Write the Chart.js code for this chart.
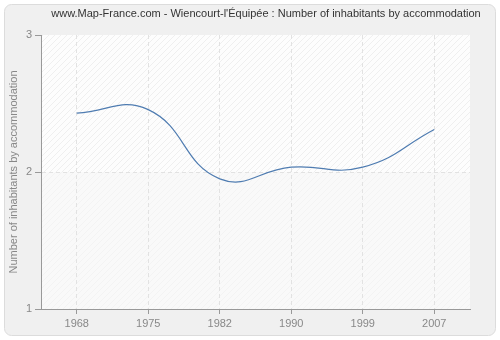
<!DOCTYPE html>
<html>
<head>
<meta charset="utf-8">
<script src="https://cdn.jsdelivr.net/npm/chart.js@4/dist/chart.umd.min.js"></script>
<style>
  html, body { margin: 0; padding: 0; background: #fff; }
  #wrap { width: 500px; height: 340px; }
</style>
</head>
<body>
<div id="wrap"><canvas id="chart" width="500" height="340"></canvas></div>
<script>
const years = ['1968', '1975', '1982', '1990', '1999', '2007'];
const inhabitants = [2.43, 2.455, 1.95, 2.035, 2.035, 2.31];
const yTicks = [1, 2, 3];
const chartTitle = "www.Map-France.com - Wiencourt-l'Équipée : Number of inhabitants by accommodation";
const yTitle = 'Number of inhabitants by accommodation';

const FONT = "'Liberation Sans', Arial, sans-serif";

function hatch(bg, line) {
  const c = document.createElement('canvas');
  c.width = 6; c.height = 6;
  const g = c.getContext('2d');
  g.fillStyle = bg;
  g.fillRect(0, 0, 6, 6);
  g.strokeStyle = line;
  g.lineWidth = 1;
  g.beginPath();
  g.moveTo(0, 6); g.lineTo(6, 0);
  g.moveTo(-1, 1); g.lineTo(1, -1);
  g.moveTo(5, 7); g.lineTo(7, 5);
  g.stroke();
  return c;
}

const backdrop = {
  id: 'backdrop',
  beforeDraw(chart) {
    const { ctx, chartArea: a, scales } = chart;
    ctx.save();
    // outer panel
    ctx.fillStyle = '#f0f0f0';
    ctx.strokeStyle = '#dcdcdc';
    ctx.lineWidth = 1;
    ctx.beginPath();
    ctx.roundRect(4.5, 4.5, 491, 331, 7);
    ctx.fill();
    ctx.stroke();
    // plot area
    const mid = scales.y.getPixelForValue(2);
    ctx.fillStyle = ctx.createPattern(hatch('#fdfdfd', '#efefef'), 'repeat');
    ctx.fillRect(a.left, a.top, a.right - a.left, mid - a.top);
    ctx.fillStyle = ctx.createPattern(hatch('#f9f9f9', '#f3f3f3'), 'repeat');
    ctx.fillRect(a.left, mid, a.right - a.left, a.bottom - mid);
    // title
    ctx.fillStyle = '#333';
    ctx.font = '11px ' + FONT;
    ctx.textAlign = 'center';
    ctx.textBaseline = 'middle';
    ctx.fillText(chartTitle, 266, 14);
    ctx.restore();
  }
};

new Chart(document.getElementById('chart'), {
  type: 'line',
  data: {
    labels: years,
    datasets: [{
      data: inhabitants,
      borderColor: '#4f7cb1',
      borderWidth: 1.2,
      pointRadius: 0,
      tension: 0.45,
      fill: false
    }]
  },
  options: {
    responsive: false,
    animation: false,
    layout: { padding: { left: 0, right: 30, top: 35, bottom: 0 } },
    plugins: { legend: { display: false }, title: { display: false }, tooltip: { enabled: false } },
    scales: {
      x: {
        offset: true,
        afterFit(s) { s.height = 31; },
        grid: {
          offset: false,
          color: '#e2e2e2',
          tickColor: '#999',
          tickLength: 5,
          tickBorderDash: [],
          drawOnChartArea: true
        },
        border: { display: true, color: '#999', width: 1, dash: [4, 3] },
        ticks: { color: '#888', font: { family: FONT, size: 11 }, padding: 3, maxRotation: 0 }
      },
      y: {
        min: 1,
        max: 3,
        afterBuildTicks(s) { s.ticks = yTicks.map(v => ({ value: v })); },
        afterFit(s) { s.width = 41; },
        grid: {
          color: ctx => ctx.tick && ctx.tick.value === 2 ? '#e2e2e2' : 'transparent',
          tickColor: '#999',
          tickLength: 6,
          tickBorderDash: []
        },
        border: { display: true, color: '#999', width: 1, dash: [4, 3] },
        ticks: { color: '#888', font: { family: FONT, size: 11 }, padding: 3 },
        title: { display: true, text: yTitle, color: '#888', font: { family: FONT, size: 11 }, padding: { top: 7, bottom: 0 } }
      }
    }
  },
  plugins: [backdrop]
});
</script>
</body>
</html>
